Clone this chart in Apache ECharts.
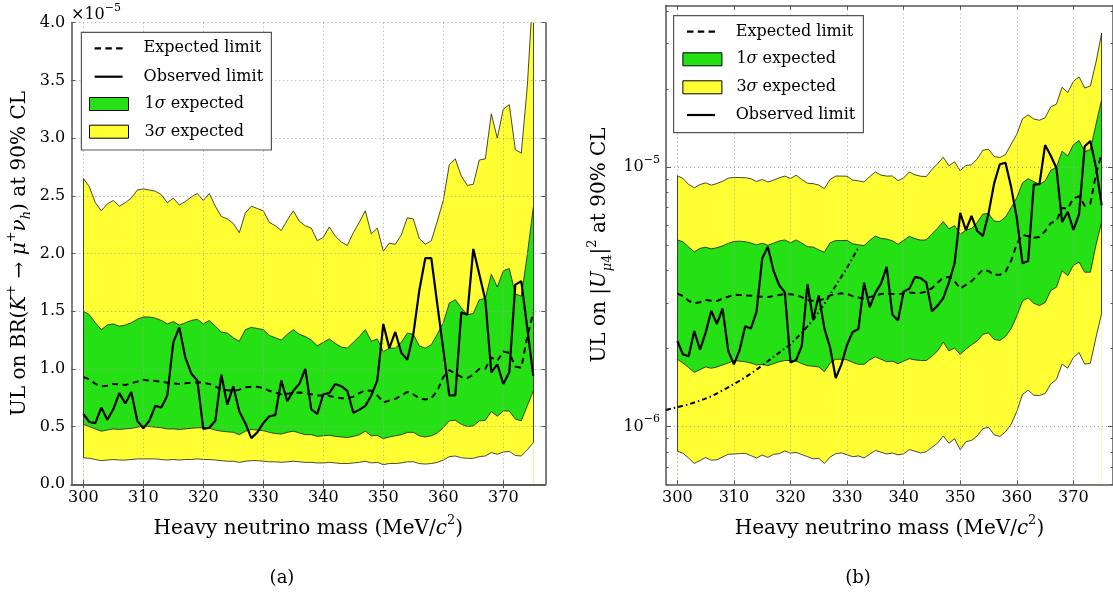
<!DOCTYPE html>
<html><head><meta charset="utf-8">
<script src="https://cdn.jsdelivr.net/npm/echarts@6/dist/echarts.min.js"></script>
<style>html,body{margin:0;padding:0;background:#fff}#c{width:1113px;height:594px}</style>
</head><body><div id="c"></div>
<script>
// Heavy neutrino mass (MeV/c^2)
const mass = [300,301,302,303,304,305,306,307,308,309,310,311,312,313,314,315,316,317,318,319,
  320,321,322,323,324,325,326,327,328,329,330,331,332,333,334,335,336,337,338,339,
  340,341,342,343,344,345,346,347,348,349,350,351,352,353,354,355,356,357,358,359,
  360,361,362,363,364,365,366,367,368,369,370,371,372,373,374,375];

// (a) UL on BR, in units of 1e-5
const hi3L = [2.65,2.58,2.44,2.37,2.43,2.46,2.41,2.44,2.48,2.55, 2.56,2.55,2.54,2.51,2.44,2.48,2.42,2.45,2.49,2.52,
  2.46,2.52,2.41,2.32,2.30,2.26,2.18,2.35,2.41,2.39, 2.37,2.27,2.24,2.20,2.29,2.37,2.28,2.24,2.22,2.11,
  2.14,2.23,2.15,2.10,2.07,2.18,2.27,2.37,2.17,2.22, 2.02,2.09,2.08,2.16,2.31,2.30,2.13,2.08,2.11,2.28,
  2.46,2.77,2.82,2.67,2.59,2.60,2.81,2.82,3.21,3.00, 3.25,3.29,2.90,2.87,3.45,4.33];
const hi1L = [1.50,1.47,1.40,1.34,1.38,1.39,1.37,1.38,1.40,1.43, 1.45,1.45,1.44,1.42,1.39,1.41,1.38,1.40,1.42,1.43,
  1.39,1.42,1.37,1.32,1.31,1.27,1.24,1.34,1.36,1.35, 1.34,1.29,1.27,1.25,1.30,1.34,1.30,1.28,1.25,1.20,
  1.23,1.26,1.22,1.19,1.18,1.23,1.28,1.34,1.24,1.26, 1.15,1.18,1.18,1.23,1.31,1.30,1.20,1.18,1.21,1.30,
  1.40,1.57,1.60,1.53,1.47,1.48,1.60,1.61,1.82,1.71, 1.85,1.87,1.65,1.63,1.99,2.40];
const expL = [0.93,0.91,0.87,0.85,0.855,0.87,0.865,0.86,0.875,0.89, 0.905,0.90,0.895,0.89,0.88,0.875,0.87,0.875,0.88,0.885,
  0.88,0.87,0.85,0.82,0.815,0.81,0.82,0.84,0.845,0.845, 0.835,0.81,0.795,0.78,0.785,0.79,0.795,0.79,0.78,0.77,
  0.77,0.765,0.755,0.745,0.745,0.76,0.79,0.815,0.81,0.77, 0.71,0.725,0.74,0.77,0.80,0.78,0.745,0.735,0.745,0.81,
  0.93,0.99,0.96,0.93,0.92,0.95,1.00,1.00,1.10,1.07, 1.15,1.14,1.02,1.01,1.28,1.49];
const obsL = [0.61,0.54,0.53,0.665,0.56,0.65,0.79,0.70,0.80,0.55, 0.486,0.55,0.68,0.665,0.77,1.23,1.36,1.10,0.96,0.90,
  0.48,0.49,0.55,0.95,0.69,0.85,0.63,0.53,0.40,0.45, 0.53,0.59,0.60,0.90,0.72,0.81,0.87,1.00,0.65,0.61,
  0.78,0.79,0.87,0.85,0.81,0.62,0.645,0.68,0.77,0.90, 1.39,1.18,1.32,1.14,1.08,1.30,1.68,1.96,1.96,1.56,
  1.17,0.77,0.77,1.49,1.47,2.04,1.82,1.60,0.97,1.04, 0.87,0.97,1.73,1.76,1.35,0.94];
const lo1L = [0.52,0.50,0.48,0.46,0.47,0.48,0.475,0.48,0.485,0.495, 0.505,0.50,0.495,0.49,0.48,0.48,0.475,0.48,0.485,0.49,
  0.49,0.485,0.47,0.46,0.455,0.45,0.43,0.46,0.475,0.47, 0.465,0.45,0.44,0.435,0.45,0.46,0.445,0.43,0.43,0.415,
  0.42,0.425,0.415,0.41,0.405,0.415,0.43,0.46,0.42,0.425, 0.395,0.41,0.42,0.43,0.45,0.45,0.42,0.41,0.42,0.445,
  0.49,0.55,0.555,0.52,0.50,0.505,0.55,0.555,0.63,0.59, 0.635,0.635,0.565,0.55,0.68,0.81];
const lo3L = [0.23,0.225,0.215,0.205,0.21,0.215,0.21,0.21,0.215,0.22, 0.22,0.22,0.22,0.215,0.21,0.215,0.21,0.215,0.215,0.22,
  0.215,0.215,0.21,0.205,0.20,0.20,0.19,0.20,0.205,0.205, 0.20,0.195,0.195,0.19,0.195,0.20,0.195,0.19,0.19,0.185,
  0.185,0.19,0.185,0.18,0.18,0.185,0.19,0.20,0.185,0.19, 0.17,0.18,0.18,0.185,0.195,0.195,0.18,0.175,0.18,0.19,
  0.21,0.24,0.245,0.23,0.225,0.225,0.24,0.245,0.275,0.26, 0.28,0.285,0.25,0.245,0.30,0.36];

// (b) UL on |U_mu4|^2, in units of 1e-6
const hi3R = [9.28,9.06,8.59,8.34,8.58,8.71,8.53,8.66,8.83,9.08, 9.14,9.13,9.12,9.04,8.81,8.98,8.78,8.92,9.11,9.25,
  9.05,9.32,8.97,8.68,8.65,8.54,8.28,8.98,9.25,9.25, 9.24,8.92,8.87,8.78,9.21,9.60,9.33,9.25,9.26,8.88,
  9.10,9.59,9.35,9.24,9.21,9.81,10.33,10.93,10.13,10.50, 9.70,10.16,10.23,10.76,11.64,11.73,11.01,10.90,11.20,12.27,
  13.41,15.37,15.93,15.35,15.18,15.52,17.11,17.51,20.35,19.41, 21.45,22.31,20.21,20.58,25.46,32.9];
const hi1R = [5.25,5.16,4.93,4.72,4.87,4.92,4.85,4.90,4.98,5.09, 5.18,5.19,5.17,5.11,5.02,5.10,5.01,5.10,5.20,5.25,
  5.12,5.25,5.10,4.94,4.93,4.80,4.71,5.12,5.22,5.22, 5.23,5.07,5.03,4.99,5.23,5.43,5.32,5.29,5.21,5.05,
  5.23,5.42,5.31,5.24,5.25,5.54,5.82,6.18,5.79,5.96, 5.52,5.73,5.81,6.13,6.60,6.63,6.20,6.18,6.43,6.99,
  7.63,8.71,9.04,8.80,8.61,8.84,9.74,10.00,11.54,11.06, 12.21,12.68,11.50,11.69,14.69,18.24];
const expR = [3.26,3.19,3.06,2.99,3.02,3.08,3.06,3.05,3.12,3.17, 3.23,3.22,3.21,3.20,3.18,3.17,3.16,3.19,3.22,3.25,
  3.24,3.22,3.16,3.07,3.06,3.06,3.12,3.21,3.24,3.27, 3.26,3.18,3.15,3.11,3.16,3.20,3.25,3.26,3.25,3.24,
  3.27,3.29,3.28,3.28,3.32,3.42,3.59,3.76,3.78,3.64, 3.41,3.52,3.64,3.83,4.03,3.98,3.85,3.85,3.96,4.36,
  5.07,5.49,5.42,5.35,5.39,5.67,6.09,6.21,6.97,6.92, 7.59,7.73,7.11,7.24,9.45,11.32];
const obsR = [2.14,1.90,1.87,2.34,1.98,2.30,2.80,2.49,2.85,1.96, 1.74,1.97,2.44,2.39,2.78,4.45,4.94,4.00,3.51,3.30,
  1.77,1.81,2.05,3.55,2.59,3.21,2.39,2.02,1.54,1.74, 2.07,2.32,2.38,3.59,2.89,3.28,3.56,4.13,2.71,2.57,
  3.32,3.40,3.78,3.74,3.60,2.79,2.93,3.13,3.60,4.26, 6.67,5.73,6.49,5.68,5.44,6.63,8.69,10.27,10.41,8.39,
  6.38,4.27,4.35,8.57,8.61,12.18,11.08,9.94,6.15,6.73, 5.74,6.58,12.06,12.62,9.96,7.14];
const lo1R = [1.82,1.76,1.69,1.62,1.66,1.70,1.68,1.70,1.73,1.76, 1.80,1.79,1.78,1.76,1.73,1.74,1.72,1.75,1.78,1.80,
  1.80,1.79,1.75,1.72,1.71,1.70,1.63,1.76,1.82,1.82, 1.81,1.77,1.74,1.74,1.81,1.86,1.82,1.78,1.79,1.75,
  1.79,1.83,1.81,1.80,1.80,1.87,1.96,2.12,1.96,2.01, 1.90,1.99,2.07,2.14,2.27,2.30,2.17,2.15,2.23,2.39,
  2.67,3.05,3.14,2.99,2.93,3.01,3.35,3.45,3.99,3.82, 4.19,4.31,3.94,3.94,5.02,6.16];
const lo3R = [0.805,0.790,0.757,0.722,0.741,0.761,0.743,0.746,0.765,0.783, 0.785,0.788,0.790,0.774,0.758,0.778,0.762,0.783,0.787,0.807,
  0.791,0.796,0.781,0.767,0.752,0.756,0.722,0.764,0.787,0.793, 0.780,0.766,0.772,0.758,0.784,0.810,0.798,0.785,0.792,0.779,
  0.786,0.817,0.805,0.792,0.801,0.833,0.865,0.922,0.864,0.899, 0.816,0.875,0.886,0.921,0.983,0.995,0.931,0.917,0.956,1.022,
  1.145,1.332,1.384,1.323,1.319,1.343,1.462,1.521,1.744,1.682, 1.848,1.932,1.743,1.757,2.214,2.736];
// dash-dotted curve in (b), units of 1e-6
const massDD = [298,300,302,304,306,308,310,312,314,316,318,320,322,324,326,328,330,332];
const ddR = [1.16,1.19,1.22,1.26,1.31,1.38,1.46,1.55,1.66,1.79,1.93,2.08,2.30,2.58,2.98,3.50,4.10,4.90];

// axis ticks
const xTicks = [300,310,320,330,340,350,360,370];
const yTicksL = [0.0,0.5,1.0,1.5,2.0,2.5,3.0,3.5,4.0];
const yMajorR = [1, 10];
const yMinorR = [0.6,0.7,0.8,0.9,2,3,4,5,6,7,8,9,20,30,40];

const FONT = 'DejaVu Serif';
const GREEN = '#24e014', YELLOW = '#ffff33', FRAME = '#555555', GRID = '#a0a0a0';
const pts = (xs, ys) => xs.map((m, i) => [m, ys[i]]);

const rich = {
  i: {fontStyle: 'italic', fontFamily: FONT, fontSize: 20, color: '#000'},
  sup: {fontSize: 13, lineHeight: 14, verticalAlign: 'top', fontFamily: FONT, color: '#000'},
  supi: {fontSize: 13, lineHeight: 14, verticalAlign: 'top', fontFamily: FONT, fontStyle: 'italic', color: '#000'},
  sub: {fontSize: 13, lineHeight: 20, verticalAlign: 'bottom', fontFamily: FONT, color: '#000'},
  subi: {fontSize: 13, lineHeight: 20, verticalAlign: 'bottom', fontFamily: FONT, fontStyle: 'italic', color: '#000'}
};
const nameStyle = {fontFamily: FONT, fontSize: 20, lineHeight: 28, color: '#000', rich: rich};
const labelStyle = {fontFamily: FONT, fontSize: 16, color: '#000'};

function xAxes(gi) {
  const base = {gridIndex: gi, type: 'value', min: 298, max: 377, splitNumber: 8, minInterval: 10, maxInterval: 10, z: 2,
    axisLine: {show: true, lineStyle: {color: FRAME, width: 1.5}},
    axisTick: {show: true, inside: true, length: 4, lineStyle: {color: FRAME, width: 1}, customValues: xTicks}};
  return [
    Object.assign({}, base, {position: 'bottom',
      axisLabel: Object.assign({show: true, margin: 6, customValues: xTicks, showMinLabel: true, showMaxLabel: true}, labelStyle),
      splitLine: {show: true, lineStyle: {color: GRID, width: 1, type: [1, 3]}},
      name: 'Heavy neutrino mass (MeV/{i|c}{sup|2})', nameLocation: 'middle', nameGap: 30, nameTextStyle: nameStyle}),
    Object.assign({}, base, {position: 'top', axisLabel: {show: false}, splitLine: {show: false}})
  ];
}
function bandSeries(xi, yi, d, yMax) {
  const edge = {color: '#1a1a1a', width: 0.8};
  const mk = (name, arr, color) => ({type: 'line', name: name, xAxisIndex: xi, yAxisIndex: yi, data: pts(mass, arr),
    symbol: 'none', silent: true, z: 1, lineStyle: edge, areaStyle: {color: color, opacity: 1, origin: 'start'},
    emphasis: {disabled: true}});
  const n = mass.length - 1;
  const s4 = mk('band-lo3', d.lo3, '#ffffff');
  s4.markLine = {silent: true, symbol: ['none', 'none'], label: {show: false}, emphasis: {disabled: true},
    lineStyle: {color: '#1a1a1a', width: 0.8, type: 'solid'},
    data: [[{coord: [mass[0], d.lo3[0]]}, {coord: [mass[0], d.hi3[0]]}],
           [{coord: [mass[n], d.lo3[n]]}, {coord: [mass[n], Math.min(d.hi3[n], yMax)]}]]};
  return [mk('3σ expected', d.hi3, YELLOW), mk('1σ expected', d.hi1, GREEN), mk('band-lo1', d.lo1, YELLOW), s4,
    {type: 'line', name: 'Expected limit', xAxisIndex: xi, yAxisIndex: yi, data: pts(mass, d.exp), symbol: 'none', z: 3,
      silent: true, lineStyle: {color: '#000', width: 2, type: [6, 4.5]}},
    {type: 'line', name: 'Observed limit', xAxisIndex: xi, yAxisIndex: yi, data: pts(mass, d.obs), symbol: 'none', z: 3,
      silent: true, lineStyle: {color: '#000', width: 2.2}}];
}
const DASH_ICON = 'path://M0,0h6.5v2.2h-6.5zM10.8,0h6.5v2.2h-6.5zM21.6,0h6.5v2.2h-6.5z';
function leg(name, left, cy, kind, textPad, fmt) {
  const rect = kind === 'rect';
  const o = {orient: 'vertical', left: left, top: cy - 8, padding: 0, z: 10, selectedMode: false,
    itemWidth: rect ? 39 : 28, itemHeight: rect ? 13 : 2.2,
    textStyle: {fontFamily: FONT, fontSize: 16, lineHeight: 16, color: '#000', padding: [0, 0, 0, textPad],
      rich: {i: {fontFamily: FONT, fontSize: 16, fontStyle: 'italic', color: '#000'}}}};
  if (rect) {
    o.data = [{name: name, icon: 'rect', itemStyle: {color: name.indexOf('1') === 0 ? GREEN : YELLOW, borderColor: '#000', borderWidth: 1}}];
  } else {
    o.data = [{name: name, icon: kind === 'dash' ? DASH_ICON : 'rect',
      itemStyle: {color: '#000', borderWidth: 0}, lineStyle: {width: 0, opacity: 0}}];
  }
  if (fmt) o.formatter = fmt;
  return o;
}
const f1 = () => '1{i|σ} expected', f3 = () => '3{i|σ} expected';

const supRich = {sup: {fontSize: 11, lineHeight: 11, verticalAlign: 'top', fontFamily: FONT, color: '#000'}};
const isPow10 = v => Math.abs(Math.log10(v) - Math.round(Math.log10(v))) < 1e-6;
const logBase = {gridIndex: 1, type: 'log', logBase: 10, min: 0.6, max: 42, z: 2};

const option = {
  backgroundColor: '#fff',
  animation: false,
  grid: [
    {left: 71.3, top: 22.7, width: 474, height: 461.6},
    {left: 666, top: 5.6, width: 454.25, height: 478.7}
  ],
  xAxis: [].concat(xAxes(0), xAxes(1)),
  yAxis: [
    {gridIndex: 0, type: 'value', min: 0, max: 4, interval: 0.5, position: 'left', z: 2,
      axisLine: {show: true, lineStyle: {color: FRAME, width: 1.5}},
      axisTick: {show: true, inside: true, length: 4, lineStyle: {color: FRAME}},
      axisLabel: Object.assign({margin: 6, formatter: v => v.toFixed(1)}, labelStyle),
      splitLine: {show: true, lineStyle: {color: GRID, width: 1, type: [1, 3]}},
      name: 'UL on BR({i|K}{sup|+} → {i|μ}{sup|+}{i|ν}{subi|h}) at 90% CL', nameLocation: 'middle', nameRotate: 90,
      nameGap: 38, nameTextStyle: nameStyle},
    {gridIndex: 0, type: 'value', min: 0, max: 4, interval: 0.5, position: 'right', z: 2,
      axisLine: {show: true, lineStyle: {color: FRAME, width: 1.5}},
      axisTick: {show: true, inside: true, length: 4, lineStyle: {color: FRAME}},
      axisLabel: {show: false}, splitLine: {show: false}},
    Object.assign({}, logBase, {position: 'left',
      axisLine: {show: true, lineStyle: {color: FRAME, width: 1.5}},
      axisTick: {show: true, inside: true, length: 5, lineStyle: {color: FRAME}, customValues: yMajorR},
      axisLabel: Object.assign({margin: 6, lineHeight: 26, customValues: yMajorR, rich: supRich,
        formatter: v => isPow10(v) ? '10{sup|−' + (6 - Math.round(Math.log10(v))) + '}' : ''}, labelStyle),
      splitLine: {show: true, lineStyle: {color: GRID, width: 1, type: [1, 3]}},
      name: 'UL on |{i|U}{subi|μ}{sub|4}|{sup|2} at 90% CL', nameLocation: 'middle', nameRotate: 90,
      nameGap: 52, nameTextStyle: nameStyle}),
    Object.assign({}, logBase, {position: 'left', axisLine: {show: false},
      axisTick: {show: true, inside: true, length: 2.5, lineStyle: {color: FRAME}, customValues: yMinorR},
      axisLabel: {show: false}, splitLine: {show: false}}),
    Object.assign({}, logBase, {position: 'right', axisLine: {show: true, lineStyle: {color: FRAME, width: 1.5}},
      axisTick: {show: true, inside: true, length: 5, lineStyle: {color: FRAME}, customValues: yMajorR},
      axisLabel: {show: false}, splitLine: {show: false}}),
    Object.assign({}, logBase, {position: 'right', axisLine: {show: false},
      axisTick: {show: true, inside: true, length: 2.5, lineStyle: {color: FRAME}, customValues: yMinorR},
      axisLabel: {show: false}, splitLine: {show: false}})
  ],
  legend: [
    leg('Expected limit', 94.6, 48.3, 'dash', 16),
    leg('Observed limit', 94.6, 76.7, 'line', 16),
    leg('1σ expected', 89, 104, 'rect', 11, f1),
    leg('3σ expected', 89, 131.7, 'rect', 11, f3),
    leg('Expected limit', 687, 31.7, 'dash', 15.7),
    leg('1σ expected', 682.4, 59.3, 'rect', 9.5, f1),
    leg('3σ expected', 682.4, 87.3, 'rect', 9.5, f3),
    leg('Observed limit', 687, 115, 'line', 15.7)
  ],
  graphic: [
    {type: 'rect', z: 9, shape: {x: 81.4, y: 32.3, width: 190, height: 117.7},
      style: {fill: '#fff', stroke: FRAME, lineWidth: 1.2}},
    {type: 'rect', z: 9, shape: {x: 673.6, y: 15.7, width: 189.8, height: 117},
      style: {fill: '#fff', stroke: FRAME, lineWidth: 1.2}},
    {type: 'text', z: 9, x: 71, y: 15, style: {text: '×10{sup|−5}', fontFamily: FONT, fontSize: 16, lineHeight: 24,
      fill: '#000', verticalAlign: 'middle', align: 'left', rich: {sup: {fontSize: 11, lineHeight: 11, verticalAlign: 'top', fontFamily: FONT, fill: '#000'}}}},
    {type: 'text', z: 9, x: 282, y: 578, style: {text: '(a)', fontFamily: FONT, fontSize: 18, fill: '#000', align: 'center', verticalAlign: 'middle'}},
    {type: 'text', z: 9, x: 858, y: 578, style: {text: '(b)', fontFamily: FONT, fontSize: 18, fill: '#000', align: 'center', verticalAlign: 'middle'}}
  ],
  series: [].concat(
    bandSeries(0, 0, {hi3: hi3L, hi1: hi1L, lo1: lo1L, lo3: lo3L, exp: expL, obs: obsL}, 4.0),
    bandSeries(2, 2, {hi3: hi3R, hi1: hi1R, lo1: lo1R, lo3: lo3R, exp: expR, obs: obsR}, 42),
    [{type: 'line', name: 'dashdot', xAxisIndex: 2, yAxisIndex: 2, data: pts(massDD, ddR), symbol: 'none', z: 3, silent: true,
      lineStyle: {color: '#000', width: 2, type: [5, 3, 1.5, 3]}}]
  )
};
const chart = echarts.init(document.getElementById('c'));
chart.setOption(option);
</script>
</body></html>
